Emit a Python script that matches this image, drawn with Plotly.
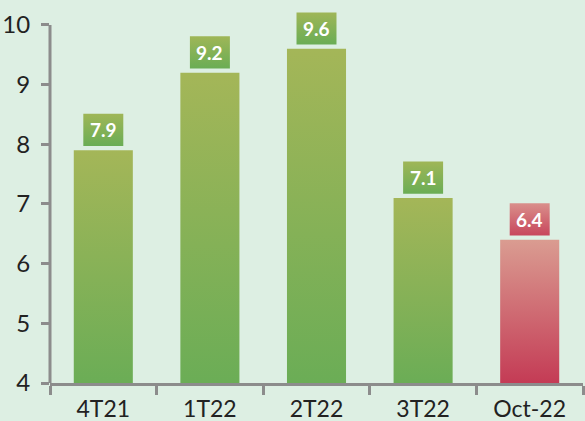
import plotly.graph_objects as go

categories = ["4T21", "1T22", "2T22", "3T22", "Oct-22"]
values = [7.9, 9.2, 9.6, 7.1, 6.4]
y_ticks = [4, 5, 6, 7, 8, 9, 10]
highlight = "Oct-22"

BG = "#DDEFE3"
AXIS = "#8C8C8C"
FONT = "Lato, 'Open Sans', sans-serif"
GREEN = ("#6BAD56", "#A4B658")   # bottom, top
RED = ("#C43B55", "#DA9C91")
GREEN_BOX = ("#6AAD55", "#9FB657")
RED_BOX = ("#C8465C", "#D98F8B")

Y0 = 4
HALF_W = 0.277
BOX_HALF_W = 0.1875
BOX_H = 0.54
GAP = 0.07

fig = go.Figure()
for i, (cat, v) in enumerate(zip(categories, values)):
    bar_cols = RED if cat == highlight else GREEN
    box_cols = RED_BOX if cat == highlight else GREEN_BOX
    fig.add_trace(go.Scatter(
        x=[i - HALF_W, i + HALF_W, i + HALF_W, i - HALF_W, i - HALF_W],
        y=[Y0, Y0, v, v, Y0],
        mode="lines", line=dict(width=0), fill="toself",
        fillgradient=dict(type="vertical", start=Y0, stop=v,
                          colorscale=[[0, bar_cols[0]], [1, bar_cols[1]]]),
        hoverinfo="skip", showlegend=False))
    b0 = v + GAP
    b1 = b0 + BOX_H
    fig.add_trace(go.Scatter(
        x=[i - BOX_HALF_W, i + BOX_HALF_W, i + BOX_HALF_W, i - BOX_HALF_W, i - BOX_HALF_W],
        y=[b0, b0, b1, b1, b0],
        mode="lines", line=dict(width=0), fill="toself",
        fillgradient=dict(type="vertical", start=b0, stop=b1,
                          colorscale=[[0, box_cols[0]], [1, box_cols[1]]]),
        hoverinfo="skip", showlegend=False))
    fig.add_annotation(x=i, y=(b0 + b1) / 2, text=f"<b>{v:.1f}</b>",
                       showarrow=False, font=dict(family=FONT, size=19, color="white"),
                       xanchor="center", yanchor="middle")

fig.add_shape(type="line", xref="paper", x0=0, x1=0, yref="y", y0=Y0, y1=10,
              line=dict(color=AXIS, width=3))

fig.update_layout(
    width=585, height=421,
    margin=dict(l=50, r=2, t=10, b=38),
    paper_bgcolor=BG, plot_bgcolor=BG,
    font=dict(family=FONT, color="#222222", size=24),
    xaxis=dict(range=[-0.5, 4.5], tickvals=list(range(len(categories))),
               ticktext=categories, ticks="", showgrid=False, zeroline=False,
               showline=True, linecolor=AXIS, linewidth=3, automargin=False,
               ticklabelstandoff=3, tickfont=dict(size=23),
               minor=dict(ticks="outside", ticklen=9, tickwidth=3, tickcolor=AXIS,
                          tick0=-0.5, dtick=1, showgrid=False)),
    yaxis=dict(range=[Y0, 10.25], tickvals=y_ticks, ticks="outside", ticklen=8,
               tickwidth=3, tickcolor=AXIS, showgrid=False, zeroline=False,
               showline=False, automargin=False, ticklabelstandoff=6),
)

fig.write_html("out.html", config={"displayModeBar": False},
               post_script="document.body.style.margin='0';document.body.style.background='%s';" % BG)
